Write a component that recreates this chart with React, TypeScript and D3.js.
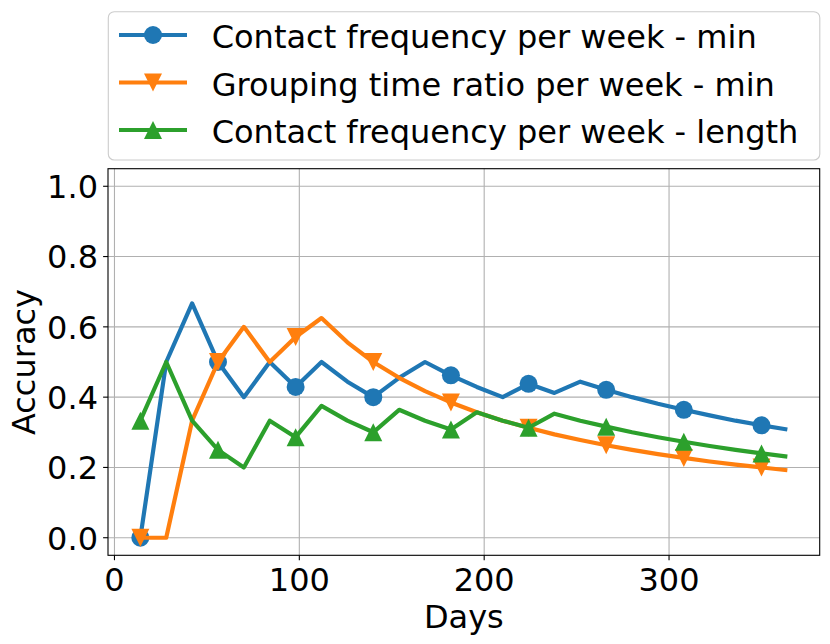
import * as d3 from 'd3';

// days (every two weeks)
const days = [14, 28, 42, 56, 70, 84, 98, 112, 126, 140, 154, 168, 182, 196, 210, 224, 238, 252, 266, 280, 294, 308, 322, 336, 350, 364];

const contactMin = [0, 0.5, 0.667, 0.5, 0.4, 0.5, 0.429, 0.5, 0.444, 0.4, 0.455, 0.5, 0.462, 0.429, 0.4, 0.438, 0.412, 0.444, 0.421, 0.4, 0.381, 0.364, 0.348, 0.333, 0.32, 0.308];
const groupingMin = [0, 0, 0.333, 0.5, 0.6, 0.5, 0.571, 0.625, 0.556, 0.5, 0.455, 0.417, 0.385, 0.357, 0.333, 0.313, 0.294, 0.278, 0.263, 0.25, 0.238, 0.227, 0.217, 0.208, 0.2, 0.192];
const contactLength = [0.333, 0.5, 0.333, 0.25, 0.2, 0.333, 0.286, 0.375, 0.333, 0.3, 0.364, 0.333, 0.308, 0.357, 0.333, 0.313, 0.353, 0.333, 0.316, 0.3, 0.286, 0.273, 0.261, 0.25, 0.24, 0.231];

const xTicks = [0, 100, 200, 300];
const yTicks = [0, 0.2, 0.4, 0.6, 0.8, 1.0];

const series = [
  { name: 'Contact frequency per week - min', values: contactMin, color: '#1f77b4', marker: 'o' },
  { name: 'Grouping time ratio per week - min', values: groupingMin, color: '#ff7f0e', marker: 'v' },
  { name: 'Contact frequency per week - length', values: contactLength, color: '#2ca02c', marker: '^' },
];

const W = 830, H = 644;
const FONT = 'DejaVu Sans, sans-serif';
const FS = 32;
const MS = 18; // marker size px

function Marker({ type, cx, cy, color }: { type: string; cx: number; cy: number; color: string }) {
  const h = MS / 2;
  if (type === 'o') return <circle cx={cx} cy={cy} r={h} fill={color} />;
  if (type === 'v') return <path d={`M${cx - h},${cy - h}L${cx + h},${cy - h}L${cx},${cy + h}Z`} fill={color} />;
  return <path d={`M${cx - h},${cy + h}L${cx + h},${cy + h}L${cx},${cy - h}Z`} fill={color} />;
}

export default function App() {
  const x = d3.scaleLinear().domain([-3.5, 381.5]).range([108, 819.7]);
  const y = d3.scaleLinear().domain([-0.05, 1.05]).range([555.3, 168.7]);
  const [x0, x1] = x.range();
  const [y0, y1] = y.range();

  const line = d3.line<number>().x((_, i) => x(days[i])).y(d => y(d));

  const legendRows = [35, 82.5, 130];

  return (
    <svg width={W} height={H} viewBox={`0 0 ${W} ${H}`}
      style={{ position: 'fixed', left: 0, top: 0, background: '#fff' }} fontFamily={FONT}>
      <rect width={W} height={H} fill="#fff" />
      {/* grid */}
      {xTicks.map(t => (
        <line key={'gx' + t} x1={x(t)} x2={x(t)} y1={y1} y2={y0} stroke="#b0b0b0" strokeWidth={1.1} />
      ))}
      {yTicks.map(t => (
        <line key={'gy' + t} x1={x0} x2={x1} y1={y(t)} y2={y(t)} stroke="#b0b0b0" strokeWidth={1.1} />
      ))}

      {/* series */}
      <defs>
        <clipPath id="plotClip"><rect x={x0} y={y1} width={x1 - x0} height={y0 - y1} /></clipPath>
      </defs>
      {series.map(s => (
        <g key={s.name}>
          <path d={line(s.values) || ''} fill="none" stroke={s.color} strokeWidth={4.2} strokeLinejoin="round" strokeLinecap="butt" />
          {s.values.map((v, i) => i % 3 === 0
            ? <Marker key={i} type={s.marker} cx={x(days[i])} cy={y(v)} color={s.color} />
            : null)}
        </g>
      ))}

      {/* spines */}
      <rect x={x0} y={y1} width={x1 - x0} height={y0 - y1} fill="none" stroke="#000" strokeWidth={1.1} />

      {/* x ticks */}
      {xTicks.map(t => (
        <g key={'xt' + t}>
          <line x1={x(t)} x2={x(t)} y1={y0} y2={y0 + 4.9} stroke="#000" strokeWidth={1.1} />
          <text x={x(t)} y={590.7} textAnchor="middle" fontSize={FS} fill="#000">{t}</text>
        </g>
      ))}
      {/* y ticks */}
      {yTicks.map(t => (
        <g key={'yt' + t}>
          <line x1={x0 - 4.9} x2={x0} y1={y(t)} y2={y(t)} stroke="#000" strokeWidth={1.1} />
          <text x={98} y={y(t) + 11.8} textAnchor="end" fontSize={FS} fill="#000">{t.toFixed(1)}</text>
        </g>
      ))}

      {/* axis labels */}
      <text x={(x0 + x1) / 2} y={628.3} textAnchor="middle" fontSize={FS} fill="#000">Days</text>
      <text transform={`translate(35,${(y0 + y1) / 2}) rotate(-90)`} textAnchor="middle" fontSize={FS} fill="#000">Accuracy</text>

      {/* legend */}
      <rect x={108.3} y={11.7} width={711.5} height={148.3} rx={6} fill="#fff" fillOpacity={0.8} stroke="#cccccc" strokeWidth={1.1} />
      {series.map((s, i) => (
        <g key={'lg' + s.name}>
          <line x1={119} x2={187} y1={legendRows[i]} y2={legendRows[i]} stroke={s.color} strokeWidth={4.2} />
          <Marker type={s.marker} cx={153} cy={legendRows[i]} color={s.color} />
          <text x={211.7} y={legendRows[i] + 13} fontSize={FS} fill="#000">{s.name}</text>
        </g>
      ))}
    </svg>
  );
}
